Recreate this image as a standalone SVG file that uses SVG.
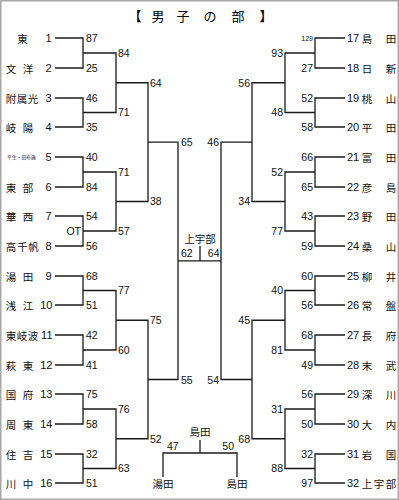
<svg xmlns="http://www.w3.org/2000/svg" width="399" height="500" viewBox="0 0 399 500">
<style>
.t{font-family:"Noto Sans CJK JP","Noto Sans",sans-serif;font-size:10.5px;dominant-baseline:central;text-anchor:middle;fill:#111}
.n{font-family:"Liberation Sans",Arial,sans-serif;font-size:11px;dominant-baseline:central;fill:#111}
.s{font-family:"Liberation Sans",Arial,sans-serif;font-size:10.5px;dominant-baseline:central;fill:#111}
.e{text-anchor:end}
.m{text-anchor:middle}
.ttl{font-family:"Noto Sans CJK JP",sans-serif;font-size:13px;dominant-baseline:central;text-anchor:middle;fill:#000}
.ln{fill:none;stroke:#1a1a1a;stroke-width:1.3}
</style>
<rect x="0.75" y="0.75" width="397.5" height="498.5" fill="#fff" stroke="#a8a8a8" stroke-width="1.5"/>
<g id="title">
<text class="ttl" x="135" y="15">【</text><text class="ttl" x="158" y="15">男</text><text class="ttl" x="183" y="15">子</text><text class="ttl" x="210" y="15">の</text><text class="ttl" x="238" y="15">部</text><text class="ttl" x="266" y="15">】</text>
</g>
<g id="connectors" class="ln">
<path d="M55 38H83V68H55M55 98H83V127H55M55 157H83V187H55M55 216H83V246H55M55 276H83V305H55M55 335H83V365H55M55 394H83V424H55M55 454H83V483H55"/>
<path d="M83 53H116V112.5H83M83 172H116V231H83M83 290.5H116V350H83M83 409H116V468.5H83"/>
<path d="M116 82.75H148V201.5H116M116 320.25H148V438.75H116"/>
<path d="M148 142.1H178V379.5H148"/>
<path d="M178 260.8H221M200 246V260.8"/>
<path d="M252 142.1H221V379.5H252"/>
<path d="M285 82.75H252V201.5H285M285 320.25H252V438.75H285"/>
<path d="M315 53H285V112.5H315M315 172H285V231H315M315 290.5H285V350H315M315 409H285V468.5H315"/>
<path d="M345 38H315V68H345M345 98H315V127H345M345 157H315V187H345M345 216H315V246H345M345 276H315V305H345M345 335H315V365H345M345 394H315V424H345M345 454H315V483H345"/>
<path d="M200 440V453M163 477V453H237V477"/>
</g>
<g id="team1"><text class="t" x="22.5" y="38">東</text><text class="n e" x="51.5" y="38">1</text></g>
<g id="team2"><text class="t" x="11" y="68">文</text><text class="t" x="28" y="68">洋</text><text class="n e" x="51.5" y="68">2</text></g>
<g id="team3"><text class="t" x="11" y="98">附</text><text class="t" x="22" y="98">属</text><text class="t" x="33" y="98">光</text><text class="n e" x="51.5" y="98">3</text></g>
<g id="team4"><text class="t" x="11" y="127">岐</text><text class="t" x="28" y="127">陽</text><text class="n e" x="51.5" y="127">4</text></g>
<g id="team5"><text class="t" x="21.5" y="156" style="font-size:4.8px">平生・田布施</text><text class="n e" x="51.5" y="157">5</text></g>
<g id="team6"><text class="t" x="11" y="187">東</text><text class="t" x="28" y="187">部</text><text class="n e" x="51.5" y="187">6</text></g>
<g id="team7"><text class="t" x="11" y="216">華</text><text class="t" x="28" y="216">西</text><text class="n e" x="51.5" y="216">7</text></g>
<g id="team8"><text class="t" x="11" y="246">高</text><text class="t" x="22.5" y="246">千</text><text class="t" x="33.5" y="246">帆</text><text class="n e" x="51.5" y="246">8</text></g>
<g id="team9"><text class="t" x="11" y="276">湯</text><text class="t" x="28" y="276">田</text><text class="n e" x="51.5" y="276">9</text></g>
<g id="team10"><text class="t" x="11" y="305">浅</text><text class="t" x="28" y="305">江</text><text class="n e" x="52.5" y="305">10</text></g>
<g id="team11"><text class="t" x="11" y="335">東</text><text class="t" x="22" y="335">岐</text><text class="t" x="33" y="335">波</text><text class="n e" x="52.5" y="335">11</text></g>
<g id="team12"><text class="t" x="11" y="365">萩</text><text class="t" x="28" y="365">東</text><text class="n e" x="52.5" y="365">12</text></g>
<g id="team13"><text class="t" x="11" y="394">国</text><text class="t" x="28" y="394">府</text><text class="n e" x="52.5" y="394">13</text></g>
<g id="team14"><text class="t" x="11" y="424">周</text><text class="t" x="28" y="424">東</text><text class="n e" x="52.5" y="424">14</text></g>
<g id="team15"><text class="t" x="11" y="454">住</text><text class="t" x="28" y="454">吉</text><text class="n e" x="52.5" y="454">15</text></g>
<g id="team16"><text class="t" x="11" y="483">川</text><text class="t" x="28" y="483">中</text><text class="n e" x="52.5" y="483">16</text></g>
<g id="team17"><text class="n" x="347" y="38">17</text><text class="t" x="367" y="38">島</text><text class="t" x="391" y="38">田</text></g>
<g id="team18"><text class="n" x="347" y="68">18</text><text class="t" x="367" y="68">日</text><text class="t" x="391" y="68">新</text></g>
<g id="team19"><text class="n" x="347" y="98">19</text><text class="t" x="367" y="98">桃</text><text class="t" x="391" y="98">山</text></g>
<g id="team20"><text class="n" x="347" y="127">20</text><text class="t" x="367" y="127">平</text><text class="t" x="391" y="127">田</text></g>
<g id="team21"><text class="n" x="347" y="157">21</text><text class="t" x="367" y="157">富</text><text class="t" x="391" y="157">田</text></g>
<g id="team22"><text class="n" x="347" y="187">22</text><text class="t" x="367" y="187">彦</text><text class="t" x="391" y="187">島</text></g>
<g id="team23"><text class="n" x="347" y="216">23</text><text class="t" x="367" y="216">野</text><text class="t" x="391" y="216">田</text></g>
<g id="team24"><text class="n" x="347" y="246">24</text><text class="t" x="367" y="246">桑</text><text class="t" x="391" y="246">山</text></g>
<g id="team25"><text class="n" x="347" y="276">25</text><text class="t" x="367" y="276">柳</text><text class="t" x="391" y="276">井</text></g>
<g id="team26"><text class="n" x="347" y="305">26</text><text class="t" x="367" y="305">常</text><text class="t" x="391" y="305">盤</text></g>
<g id="team27"><text class="n" x="347" y="335">27</text><text class="t" x="367" y="335">長</text><text class="t" x="391" y="335">府</text></g>
<g id="team28"><text class="n" x="347" y="365">28</text><text class="t" x="367" y="365">末</text><text class="t" x="391" y="365">武</text></g>
<g id="team29"><text class="n" x="347" y="394">29</text><text class="t" x="367" y="394">深</text><text class="t" x="391" y="394">川</text></g>
<g id="team30"><text class="n" x="347" y="424">30</text><text class="t" x="367" y="424">大</text><text class="t" x="391" y="424">内</text></g>
<g id="team31"><text class="n" x="347" y="454">31</text><text class="t" x="367" y="454">岩</text><text class="t" x="391" y="454">国</text></g>
<g id="team32"><text class="n" x="347" y="483">32</text><text class="t" x="367" y="483">上</text><text class="t" x="379" y="483">宇</text><text class="t" x="391" y="483">部</text></g>
<g id="scores-left" class="s">
<text x="86" y="38">87</text><text x="86" y="68">25</text><text x="86" y="98">46</text><text x="86" y="127">35</text><text x="86" y="157">40</text><text x="86" y="187">84</text><text x="86" y="216">54</text><text x="86" y="246">56</text><text x="86" y="276">68</text><text x="86" y="305">51</text><text x="86" y="335">42</text><text x="86" y="365">41</text><text x="86" y="394">75</text><text x="86" y="424">58</text><text x="86" y="454">32</text><text x="86" y="483">51</text>
<text x="81" y="231" text-anchor="end">OT</text>
<text x="118" y="53">84</text><text x="118" y="112">71</text><text x="118" y="172">71</text><text x="118" y="231">57</text><text x="118" y="290">77</text><text x="118" y="350">60</text><text x="118" y="409">76</text><text x="118" y="468">63</text>
<text x="150" y="82.5">64</text><text x="150" y="201">38</text><text x="150" y="320">75</text><text x="150" y="438.5">52</text>
<text x="181" y="142">65</text><text x="181" y="379.5">55</text>
</g>
<g id="scores-right" class="s e">
<text x="313" y="38" style="font-size:7px">129</text><text x="313" y="68">27</text><text x="313" y="98">52</text><text x="313" y="127">58</text><text x="313" y="157">66</text><text x="313" y="187">65</text><text x="313" y="216">43</text><text x="313" y="246">59</text><text x="313" y="276">60</text><text x="313" y="305">56</text><text x="313" y="335">68</text><text x="313" y="365">49</text><text x="313" y="394">56</text><text x="313" y="424">50</text><text x="313" y="454">32</text><text x="313" y="483">97</text>
<text x="283" y="53">93</text><text x="283" y="112">48</text><text x="283" y="172">52</text><text x="283" y="231">77</text><text x="283" y="290">40</text><text x="283" y="350">81</text><text x="283" y="409">31</text><text x="283" y="468">88</text>
<text x="250" y="82.5">56</text><text x="250" y="201">34</text><text x="250" y="320">45</text><text x="250" y="438.5">68</text>
<text x="219" y="142">46</text><text x="219" y="379.5">54</text>
</g>
<g id="final">
<text class="t" x="200" y="238">上宇部</text>
<text class="s" x="181" y="253">62</text>
<text class="s e" x="219.5" y="253">64</text>
</g>
<g id="third-place">
<text class="t" x="200" y="431.5">島田</text>
<text class="s" x="167" y="446">47</text>
<text class="s e" x="234" y="446">50</text>
<text class="t" x="163" y="483">湯田</text>
<text class="t" x="237" y="483">島田</text>
</g>
</svg>
